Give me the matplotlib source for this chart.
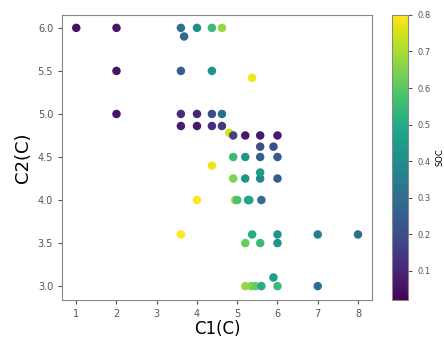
import matplotlib.pyplot as plt

# C1, C2 and SOC for each sample
c1 = [1, 2, 3.6, 3.68, 4.0, 4.37, 4.62,
      2, 3.6, 4.37, 5.37,
      2, 3.6, 4.0, 4.37, 4.62,
      3.6, 4.0, 4.37, 4.62, 4.8,
      4.9, 5.2, 5.57, 6.0,
      5.57, 5.9,
      4.9, 5.2, 5.57, 6.0, 4.37,
      4.9, 5.2, 5.57, 5.57, 6.0,
      4.0, 4.95, 5.0, 5.27, 5.3, 5.6,
      3.6, 5.37, 6.0, 7.0, 8.0,
      5.2, 5.57, 6.0,
      5.9,
      5.2, 5.35, 5.45, 5.6, 6.0, 7.0]
c2 = [6.0, 6.0, 6.0, 5.9, 6.0, 6.0, 6.0,
      5.5, 5.5, 5.5, 5.42,
      5.0, 5.0, 5.0, 5.0, 5.0,
      4.86, 4.86, 4.86, 4.86, 4.78,
      4.75, 4.75, 4.75, 4.75,
      4.62, 4.62,
      4.5, 4.5, 4.5, 4.5, 4.4,
      4.25, 4.25, 4.25, 4.32, 4.25,
      4.0, 4.0, 4.0, 4.0, 4.0, 4.0,
      3.6, 3.6, 3.6, 3.6, 3.6,
      3.5, 3.5, 3.5,
      3.1,
      3.0, 3.0, 3.0, 3.0, 3.0, 3.0]
soc = [0.05, 0.06, 0.3, 0.28, 0.4, 0.55, 0.68,
       0.06, 0.25, 0.42, 0.78,
       0.06, 0.12, 0.1, 0.2, 0.3,
       0.08, 0.07, 0.12, 0.15, 0.75,
       0.18, 0.07, 0.07, 0.07,
       0.2, 0.2,
       0.55, 0.42, 0.25, 0.25, 0.78,
       0.65, 0.42, 0.38, 0.45, 0.25,
       0.8, 0.68, 0.58, 0.45, 0.48, 0.3,
       0.8, 0.5, 0.42, 0.35, 0.3,
       0.62, 0.55, 0.42,
       0.45,
       0.68, 0.65, 0.62, 0.5, 0.55, 0.3]

fig = plt.figure(figsize=(4.44, 3.4), dpi=100)
ax = fig.add_axes([0.14, 0.118, 0.698, 0.838])
cax = fig.add_axes([0.883, 0.118, 0.036, 0.838])

sc = ax.scatter(c1, c2, c=soc, cmap="viridis", vmin=0.02, vmax=0.8, s=26)
ax.set_xlim(0.65, 8.35)
ax.set_ylim(2.84, 6.15)
ax.set_xticks([1, 2, 3, 4, 5, 6, 7, 8])
ax.set_yticks([3.0, 3.5, 4.0, 4.5, 5.0, 5.5, 6.0])
ax.tick_params(labelsize=7, colors="#555555", length=3)
ax.set_xlabel("C1(C)", fontsize=12, labelpad=1)
ax.set_ylabel("C2(C)", fontsize=13)
for sp in ax.spines.values():
    sp.set_color("#888888")

cb = fig.colorbar(sc, cax=cax)
cb.set_ticks([0.1, 0.2, 0.3, 0.4, 0.5, 0.6, 0.7, 0.8])
cb.ax.tick_params(labelsize=6, colors="#555555", length=3)
cb.set_label("SOC", fontsize=6)
cb.outline.set_edgecolor("#888888")

fig.savefig("out.png", dpi=100)
